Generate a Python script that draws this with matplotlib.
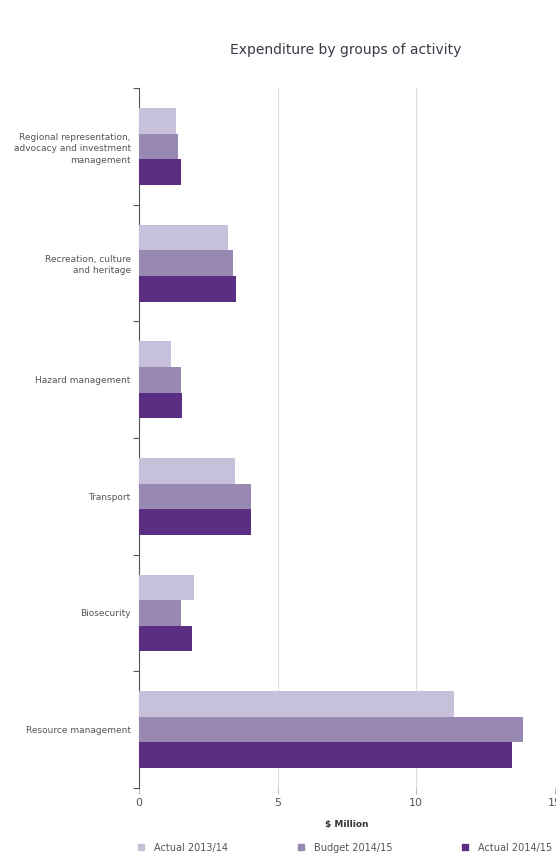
import matplotlib
matplotlib.use("Agg")
import matplotlib.pyplot as plt
from matplotlib.lines import Line2D
import numpy as np

categories = ["Regional representation,\nadvocacy and investment\nmanagement",
              "Recreation, culture\nand heritage",
              "Hazard management",
              "Transport",
              "Biosecurity",
              "Resource management"]
series_names = ["Actual 2013/14", "Budget 2014/15", "Actual 2014/15"]
actual_1314 = [1.35, 3.2, 1.15, 3.45, 2.0, 11.35]
budget_1415 = [1.4, 3.4, 1.5, 4.05, 1.5, 13.85]
actual_1415 = [1.5, 3.5, 1.55, 4.05, 1.9, 13.45]
x_ticks = [0, 5, 10, 15]
colors = ["#c6c0da", "#9889b2", "#5a2e82"]

plt.rcParams['font.family'] = ['Liberation Sans Narrow', 'DejaVu Sans']

fig = plt.figure(figsize=(5.56, 8.58), dpi=100)
ax = fig.add_axes([0.25, 0.0816, 0.748, 0.8158])

n = len(categories)
y = np.arange(n)
h = 0.22
for k, vals in enumerate([actual_1314, budget_1415, actual_1415]):
    ax.barh(y + (k - 1) * h, vals, height=h, color=colors[k], label=series_names[k], zorder=3)

ax.set_xlim(0, 15)
ax.set_ylim(n - 0.5, -0.5)
ax.set_xticks(x_ticks)
ax.set_xticklabels([str(t) for t in x_ticks], color="#555555", fontsize=8)
ax.set_yticks(y)
ax.set_yticklabels(categories, fontsize=6.5, color="#555555", ha="right", linespacing=1.35)
ax.set_yticks(np.arange(n + 1) - 0.5, minor=True)
ax.tick_params(axis='y', which='major', length=0, pad=6)
ax.tick_params(axis='y', which='minor', length=4, color="#555555", width=0.8)
ax.tick_params(axis='x', length=4, color="#bbbbbb", width=0.8)
ax.grid(axis='x', color="#dddddd", linewidth=0.8, zorder=0)
for s in ['top', 'right', 'bottom']:
    ax.spines[s].set_visible(False)
ax.spines['left'].set_color("#555555")
ax.spines['left'].set_linewidth(0.8)

ax.set_xlabel("$ Million", fontsize=6.5, fontweight='bold', color="#333333", labelpad=8)
fig.text(0.621, 0.942, "Expenditure by groups of activity", ha='center', va='center',
         fontsize=10, color="#3a3a48")

handles = [Line2D([0], [0], marker='s', linestyle='none', markersize=5,
                  markerfacecolor=c, markeredgecolor=c) for c in colors]
fig.legend(handles, series_names, loc='center', ncol=3, frameon=False,
           bbox_to_anchor=(0.23, 0.012, 0.77, 0.0), mode='expand',
           fontsize=7, labelcolor="#555555", handletextpad=0.3, borderaxespad=0)

fig.savefig("out.png", dpi=100)
